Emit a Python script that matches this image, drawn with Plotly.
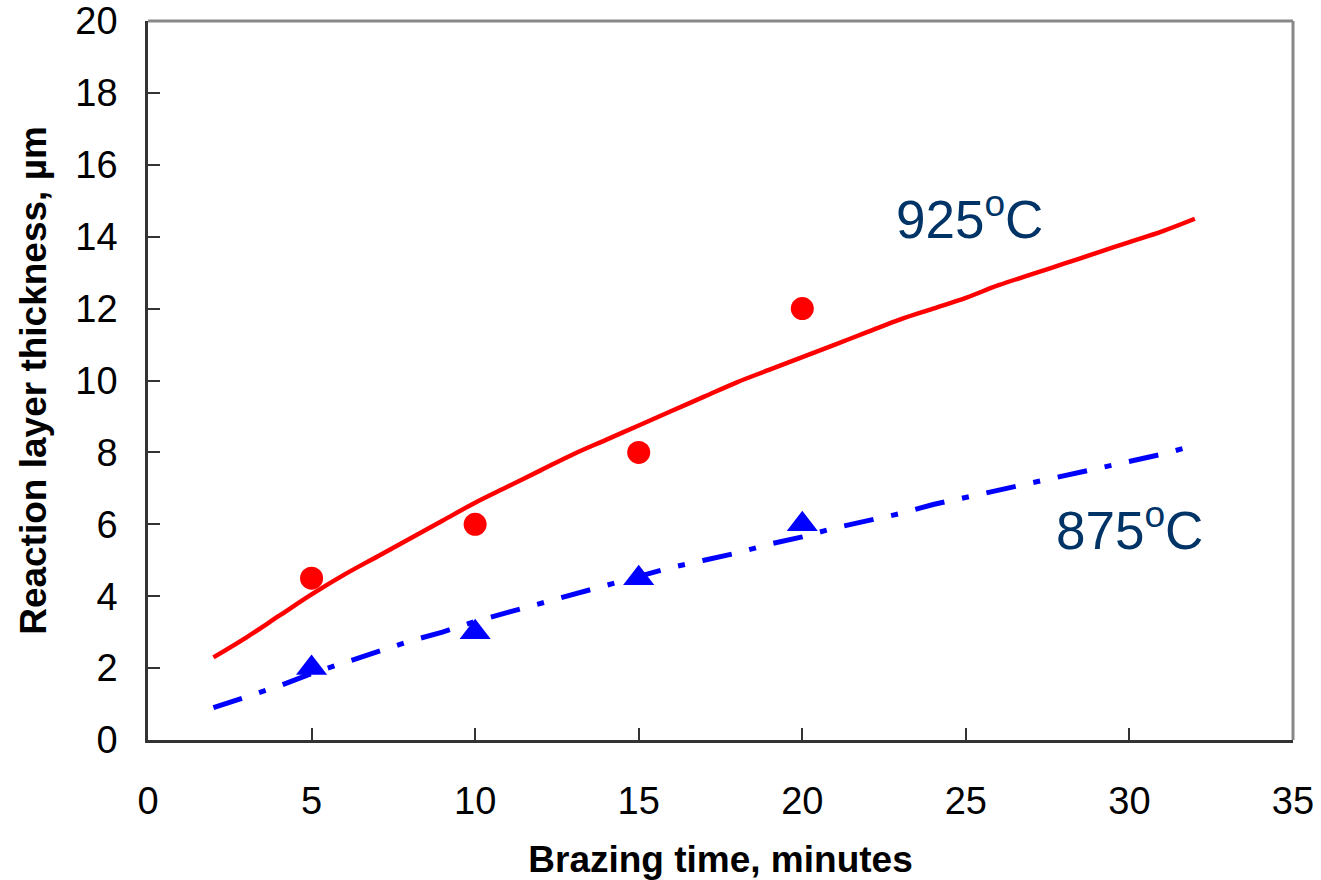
import plotly.graph_objects as go

# Fitted curves
t_curve = [2, 3, 4, 5, 6, 7, 8, 9, 10, 11, 12, 13, 14, 15, 16, 17, 18, 19, 20,
           21, 22, 23, 24, 25, 26, 27, 28, 29, 30, 31, 32]
fit_925 = [2.3, 2.85, 3.45, 4.05, 4.6, 5.1, 5.6, 6.1, 6.6, 7.05, 7.5, 7.95, 8.35, 8.75,
           9.15, 9.55, 9.95, 10.3, 10.65, 11.0, 11.35, 11.7, 12.0, 12.3, 12.65, 12.95,
           13.25, 13.55, 13.85, 14.15, 14.5]
fit_875 = [0.9, 1.2, 1.5, 1.85, 2.15, 2.45, 2.75, 3.0, 3.3, 3.55, 3.8, 4.05, 4.3, 4.55,
           4.8, 5.0, 5.2, 5.45, 5.65, 5.9, 6.1, 6.3, 6.55, 6.75, 6.95, 7.15, 7.35, 7.55,
           7.75, 7.95, 8.2]

# Measured points
t_meas = [5, 10, 15, 20]
meas_925 = [4.5, 6.0, 8.0, 12.0]
meas_875 = [2.0, 3.0, 4.5, 6.0]

x_ticks = [0, 5, 10, 15, 20, 25, 30, 35]
y_ticks = [0, 2, 4, 6, 8, 10, 12, 14, 16, 18, 20]

FONT = "Liberation Sans, Arial, sans-serif"

fig = go.Figure()
fig.add_trace(go.Scatter(x=t_curve, y=fit_925, mode="lines", line_shape="spline",
                         line=dict(color="#FF0000", width=4.5), showlegend=False))
fig.add_trace(go.Scatter(x=t_curve, y=fit_875, mode="lines",
                         line=dict(color="#0000FF", width=5, dash="30px,18px,7px,18px"),
                         showlegend=False))
fig.add_trace(go.Scatter(x=t_meas, y=meas_925, mode="markers",
                         marker=dict(color="#FF0000", size=23, symbol="circle"),
                         showlegend=False))
fig.add_trace(go.Scatter(x=t_meas, y=meas_875, mode="markers",
                         marker=dict(color="#0000FF", size=27, symbol="triangle-up"),
                         showlegend=False))

fig.add_annotation(x=25.1, y=14.6, text="925<sup>o</sup>C", showarrow=False,
                   font=dict(family=FONT, size=53, color="#003366"))
fig.add_annotation(x=30.0, y=5.95, text="875<sup>o</sup>C", showarrow=False,
                   font=dict(family=FONT, size=53, color="#003366"))

# top/right frame in gray
fig.add_shape(type="line", xref="paper", yref="paper", x0=0, x1=1, y0=1, y1=1,
              line=dict(color="#888888", width=3))
fig.add_shape(type="line", xref="paper", yref="paper", x0=1, x1=1, y0=0, y1=1,
              line=dict(color="#888888", width=3))

fig.update_layout(
    width=1321, height=880,
    margin=dict(l=148, r=28, t=21, b=140),
    paper_bgcolor="white", plot_bgcolor="white",
    font=dict(family=FONT, color="black"),
    xaxis=dict(range=[0, 35], tickvals=x_ticks, ticks="inside", ticklen=12,
               tickwidth=1.5, tickcolor="#333333", showgrid=False, zeroline=False,
               showline=True, linecolor="#333333", linewidth=2.5, automargin=False,
               tickfont=dict(size=38), ticklabelstandoff=26,
               title=dict(text="<b>Brazing time, minutes</b>", font=dict(size=37),
                          standoff=30)),
    yaxis=dict(range=[0, 20], tickvals=y_ticks, ticks="inside", ticklen=12,
               tickwidth=1.5, tickcolor="#333333", showgrid=False, zeroline=False,
               showline=True, linecolor="#333333", linewidth=2.5, automargin=False,
               tickfont=dict(size=38), ticklabelstandoff=20,
               title=dict(text="<b>Reaction layer thickness, µm</b>", font=dict(size=37),
                          standoff=18)),
)

fig.write_html("out.html")
